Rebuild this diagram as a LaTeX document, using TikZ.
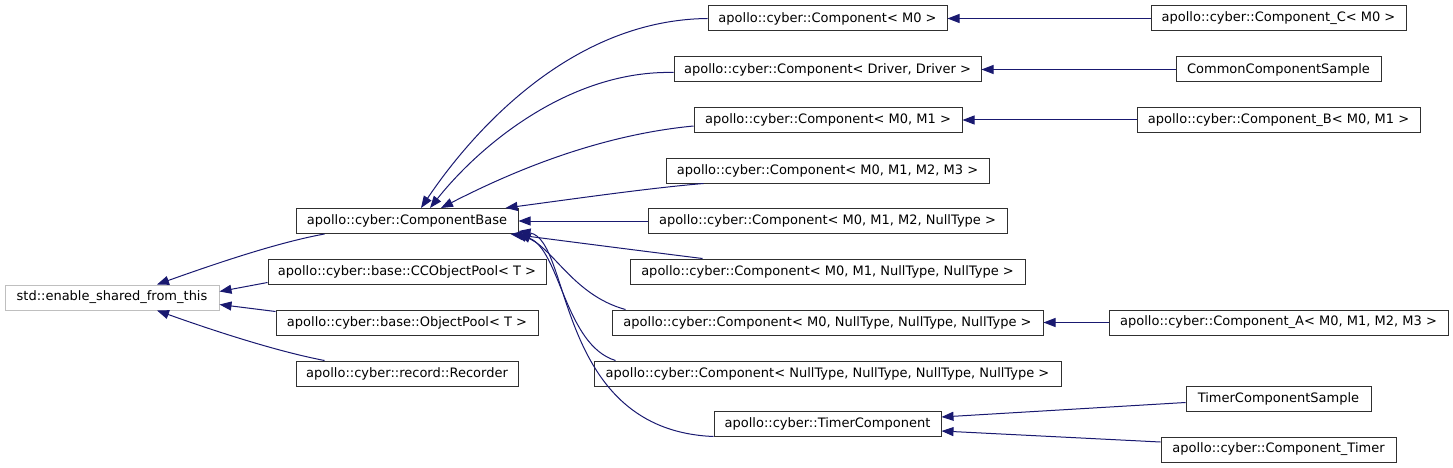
\documentclass[tikz,border=0pt]{standalone}
\usepackage{fontspec}
\setmainfont{DejaVu Sans}
\usetikzlibrary{arrows.meta}
\definecolor{edgeblue}{HTML}{191970}
\definecolor{framegray}{HTML}{303030}
\definecolor{softgray}{HTML}{BFBFBF}

\begin{document}
\begin{tikzpicture}[
  x=1pt, y=-1pt,
  cls/.style={draw=framegray, rectangle, minimum height=25pt, inner sep=0pt,
              line width=1pt, fill=white, align=center,
              font=\fontsize{13}{15}\selectfont},
  link/.style={draw=edgeblue, line width=1pt},
  >={Triangle[length=12pt, width=9pt]}
]
\useasboundingbox (0,0) rectangle (1453,468);

% first and second rank
\node[cls, draw=softgray, minimum width=214pt] (shared)   at (112,297.5) {std::enable\_shared\_from\_this};
\node[cls, minimum width=222pt] (base)     at (407,221)   {apollo::cyber::ComponentBase};
\node[cls, minimum width=278pt] (ccpool)   at (407,271.5) {apollo::cyber::base::CCObjectPool< T >};
\node[cls, minimum width=262pt] (objpool)  at (407,322.5) {apollo::cyber::base::ObjectPool< T >};
\node[cls, minimum width=222pt] (recorder) at (407,373.5) {apollo::cyber::record::Recorder};

% component templates
\node[cls, minimum width=239pt] (compM)    at (827.5,18.5)  {apollo::cyber::Component< M0 >};
\node[cls, minimum width=307pt] (compDD)   at (827.5,69.5)  {apollo::cyber::Component< Driver, Driver >};
\node[cls, minimum width=268pt] (compMM)   at (828,120)     {apollo::cyber::Component< M0, M1 >};
\node[cls, minimum width=323pt] (compMMMM) at (827.5,170.5) {apollo::cyber::Component< M0, M1, M2, M3 >};
\node[cls, minimum width=359pt] (compMMMN) at (827.5,221)   {apollo::cyber::Component< M0, M1, M2, NullType >};
\node[cls, minimum width=395pt] (compMMNN) at (827.5,271.5) {apollo::cyber::Component< M0, M1, NullType, NullType >};
\node[cls, minimum width=431pt] (compMNNN) at (827.5,322.5) {apollo::cyber::Component< M0, NullType, NullType, NullType >};
\node[cls, minimum width=467pt] (compNNNN) at (827.5,373.5) {apollo::cyber::Component< NullType, NullType, NullType, NullType >};
\node[cls, minimum width=227pt] (timer)    at (827.5,423.5) {apollo::cyber::TimerComponent};

% leaf classes
\node[cls, minimum width=255pt] (compC)     at (1278.5,18.5)  {apollo::cyber::Component\_C< M0 >};
\node[cls, minimum width=205pt] (common)    at (1278.5,69.5)  {CommonComponentSample};
\node[cls, minimum width=283pt] (compB)     at (1278.5,120)   {apollo::cyber::Component\_B< M0, M1 >};
\node[cls, minimum width=339pt] (compA)     at (1278.5,322.5) {apollo::cyber::Component\_A< M0, M1, M2, M3 >};
\node[cls, minimum width=185pt] (timersmp)  at (1278.5,398.5) {TimerComponentSample};
\node[cls, minimum width=235pt] (comptimer) at (1278.5,449.5) {apollo::cyber::Component\_Timer};

% into enable_shared_from_this
\draw[<-, link] ([xshift=45pt]shared.north) .. controls (220,262) and (280,242) .. ([xshift=29pt]base.south west);
\draw[<-, link] ([yshift=6pt]shared.east) -- ([yshift=2pt]ccpool.south west);
\draw[<-, link] ([yshift=-7pt]shared.east) -- ([yshift=-2pt]objpool.north west);
\draw[<-, link] ([xshift=45pt]shared.south) .. controls (220,333) and (280,352) .. ([xshift=29pt]recorder.north west);

% into ComponentBase
\draw[<-, link] ([xshift=14pt]base.north) .. controls (460,150) and (560,20) .. (compM.west);
\draw[<-, link] ([xshift=23pt]base.north) .. controls (480,145) and (570,70) .. ([yshift=-3pt]compDD.west);
\draw[<-, link] ([xshift=34pt]base.north) .. controls (515,170) and (600,135) .. ([yshift=-6pt]compMM.west);
\draw[<-, link] ([xshift=-13pt]base.north east) .. controls (580,198) and (650,188) .. ([xshift=38pt]compMMMM.south west);
\draw[<-, link] (base.east) -- (compMMMN.west);
\draw[<-, link] ([xshift=-8pt]base.south east) .. controls (580,243) and (650,252) .. ([xshift=73pt]compMMNN.north west);
\draw[<-, link] ([xshift=-4pt]base.south east) .. controls (552,245) and (572,295) .. ([xshift=14pt]compMNNN.north west);
\draw[<-, link] (base.south east) .. controls (560,250) and (565,345) .. ([xshift=22pt]compNNNN.north west);
\draw[<-, link] ([yshift=3pt]base.south east) .. controls (572,240) and (555,430) .. (timer.south west);

% leaf edges
\draw[<-, link] (compM.east) -- (compC.west);
\draw[<-, link] (compDD.east) -- (common.west);
\draw[<-, link] (compMM.east) -- (compB.west);
\draw[<-, link] (compMNNN.east) -- (compA.west);
\draw[<-, link] ([yshift=6.5pt]timer.east) -- ([yshift=-4pt]timersmp.west);
\draw[<-, link] ([yshift=-7.5pt]timer.east) -- ([yshift=7.5pt]comptimer.west);
\end{tikzpicture}
\end{document}
